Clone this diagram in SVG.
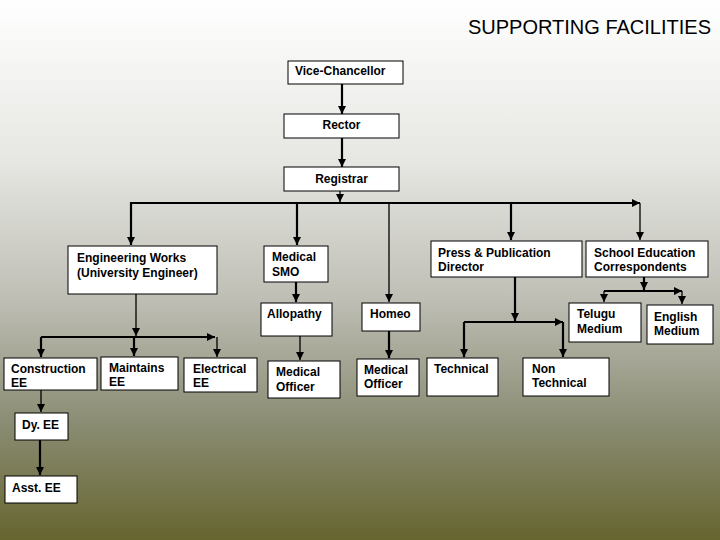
<svg xmlns="http://www.w3.org/2000/svg" width="720" height="540" viewBox="0 0 720 540">
<defs>
<linearGradient id="bg" x1="0" y1="0" x2="0" y2="1">
<stop offset="0" stop-color="#ffffff"/>
<stop offset="0.3" stop-color="#e6e6e2"/>
<stop offset="0.55" stop-color="#bfbfb6"/>
<stop offset="0.78" stop-color="#8b8d74"/>
<stop offset="1" stop-color="#66652f"/>
</linearGradient>
<marker id="ah" viewBox="0 0 8 8" refX="8" refY="4" markerWidth="8" markerHeight="8" markerUnits="userSpaceOnUse" orient="auto">
<path d="M0,0 L8,4 L0,8 z" fill="#000"/>
</marker>
</defs>
<style>
.box{fill:#fff;stroke:#000;stroke-width:1}
.t{font-family:"Liberation Sans",Arial,sans-serif;font-size:12px;font-weight:bold;fill:#000}
.c{fill:none;stroke:#000;stroke-width:2.2}
.thin{fill:none;stroke:#000;stroke-width:1.3}
</style>
<rect x="0" y="0" width="720" height="540" fill="url(#bg)"/>
<text x="711" y="34" text-anchor="end" font-family="'Liberation Sans',Arial,sans-serif" font-size="20" fill="#000">SUPPORTING FACILITIES</text>

<g id="connectors">
<path class="c" d="M342,84 V114" marker-end="url(#ah)"/>
<path class="c" d="M342,138 V167" marker-end="url(#ah)"/>
<path class="thin" d="M340,191 V202" marker-end="url(#ah)"/>
<path class="c" d="M131,203 H640" marker-end="url(#ah)"/>
<path class="thin" d="M640,203 V240" marker-end="url(#ah)"/>
<path class="c" d="M131,202 V245" marker-end="url(#ah)"/>
<path class="c" d="M297,203 V245" marker-end="url(#ah)"/>
<path class="thin" d="M389,203 V302" marker-end="url(#ah)"/>
<path class="c" d="M511,203 V240" marker-end="url(#ah)"/>
<path class="c" d="M296,282 V302" marker-end="url(#ah)"/>
<path class="thin" d="M300,336 V360" marker-end="url(#ah)"/>
<path class="c" d="M389,331 V358" marker-end="url(#ah)"/>
<path class="c" d="M515,277 V321" marker-end="url(#ah)"/>
<path class="c" d="M464,322 H563" marker-end="url(#ah)"/>
<path class="c" d="M464,322 V357" marker-end="url(#ah)"/>
<path class="c" d="M563,322 V357" marker-end="url(#ah)"/>
<path class="c" d="M644,277 V290" marker-end="url(#ah)"/>
<path class="c" d="M604,291 H682" marker-end="url(#ah)"/>
<path class="thin" d="M604,291 V302" marker-end="url(#ah)"/>
<path class="thin" d="M682,291 V304" marker-end="url(#ah)"/>
<path class="thin" d="M136,294 V336" marker-end="url(#ah)"/>
<path class="c" d="M41,337 H215" marker-end="url(#ah)"/>
<path class="c" d="M41,337 V357" marker-end="url(#ah)"/>
<path class="c" d="M134,337 V356" marker-end="url(#ah)"/>
<path class="thin" d="M217,337 V357" marker-end="url(#ah)"/>
<path class="thin" d="M41,390 V412" marker-end="url(#ah)"/>
<path class="c" d="M40,440 V475" marker-end="url(#ah)"/>
</g>

<g id="vice-chancellor"><rect class="box" x="288" y="61" width="115" height="23"/><text class="t" x="295" y="75">Vice-Chancellor</text></g>
<g id="rector"><rect class="box" x="284" y="114" width="115" height="24"/><text class="t" x="341.5" y="129" text-anchor="middle">Rector</text></g>
<g id="registrar"><rect class="box" x="284" y="167" width="115" height="24"/><text class="t" x="341.5" y="183" text-anchor="middle">Registrar</text></g>

<g id="engineering"><rect class="box" x="68" y="246" width="149" height="48"/><text class="t" x="77" y="262">Engineering Works</text><text class="t" x="77" y="277">(University Engineer)</text></g>
<g id="medical-smo"><rect class="box" x="264" y="246" width="64" height="36"/><text class="t" x="272" y="261">Medical</text><text class="t" x="272" y="276">SMO</text></g>
<g id="press"><rect class="box" x="431" y="241" width="151" height="36"/><text class="t" x="438" y="257">Press &amp; Publication</text><text class="t" x="438" y="271">Director</text></g>
<g id="school"><rect class="box" x="586" y="241" width="122" height="36"/><text class="t" x="594" y="257">School Education</text><text class="t" x="594" y="271">Correspondents</text></g>

<g id="allopathy"><rect class="box" x="261" y="303" width="71" height="33"/><text class="t" x="267" y="318">Allopathy</text></g>
<g id="homeo"><rect class="box" x="362" y="303" width="58" height="28"/><text class="t" x="370" y="318">Homeo</text></g>
<g id="telugu"><rect class="box" x="569" y="303" width="72" height="39"/><text class="t" x="577" y="318">Telugu</text><text class="t" x="577" y="333">Medium</text></g>
<g id="english"><rect class="box" x="647" y="305" width="66" height="39"/><text class="t" x="654" y="321">English</text><text class="t" x="654" y="335">Medium</text></g>

<g id="construction"><rect class="box" x="4" y="358" width="93" height="32"/><text class="t" x="11" y="373">Construction</text><text class="t" x="11" y="387">EE</text></g>
<g id="maintains"><rect class="box" x="101" y="357" width="77" height="33"/><text class="t" x="109" y="372">Maintains</text><text class="t" x="109" y="386">EE</text></g>
<g id="electrical"><rect class="box" x="184" y="358" width="73" height="34"/><text class="t" x="193" y="373">Electrical</text><text class="t" x="193" y="387">EE</text></g>
<g id="medical-officer-1"><rect class="box" x="268" y="361" width="72" height="37"/><text class="t" x="276" y="376">Medical</text><text class="t" x="276" y="391">Officer</text></g>
<g id="medical-officer-2"><rect class="box" x="357" y="359" width="62" height="37"/><text class="t" x="364" y="374">Medical</text><text class="t" x="364" y="388">Officer</text></g>
<g id="technical"><rect class="box" x="427" y="358" width="71" height="38"/><text class="t" x="434" y="373">Technical</text></g>
<g id="non-technical"><rect class="box" x="523" y="358" width="86" height="38"/><text class="t" x="532" y="373">Non</text><text class="t" x="532" y="387">Technical</text></g>

<g id="dy-ee"><rect class="box" x="15" y="413" width="53" height="27"/><text class="t" x="22" y="429">Dy. EE</text></g>
<g id="asst-ee"><rect class="box" x="5" y="476" width="72" height="27"/><text class="t" x="12" y="492">Asst. EE</text></g>
</svg>
